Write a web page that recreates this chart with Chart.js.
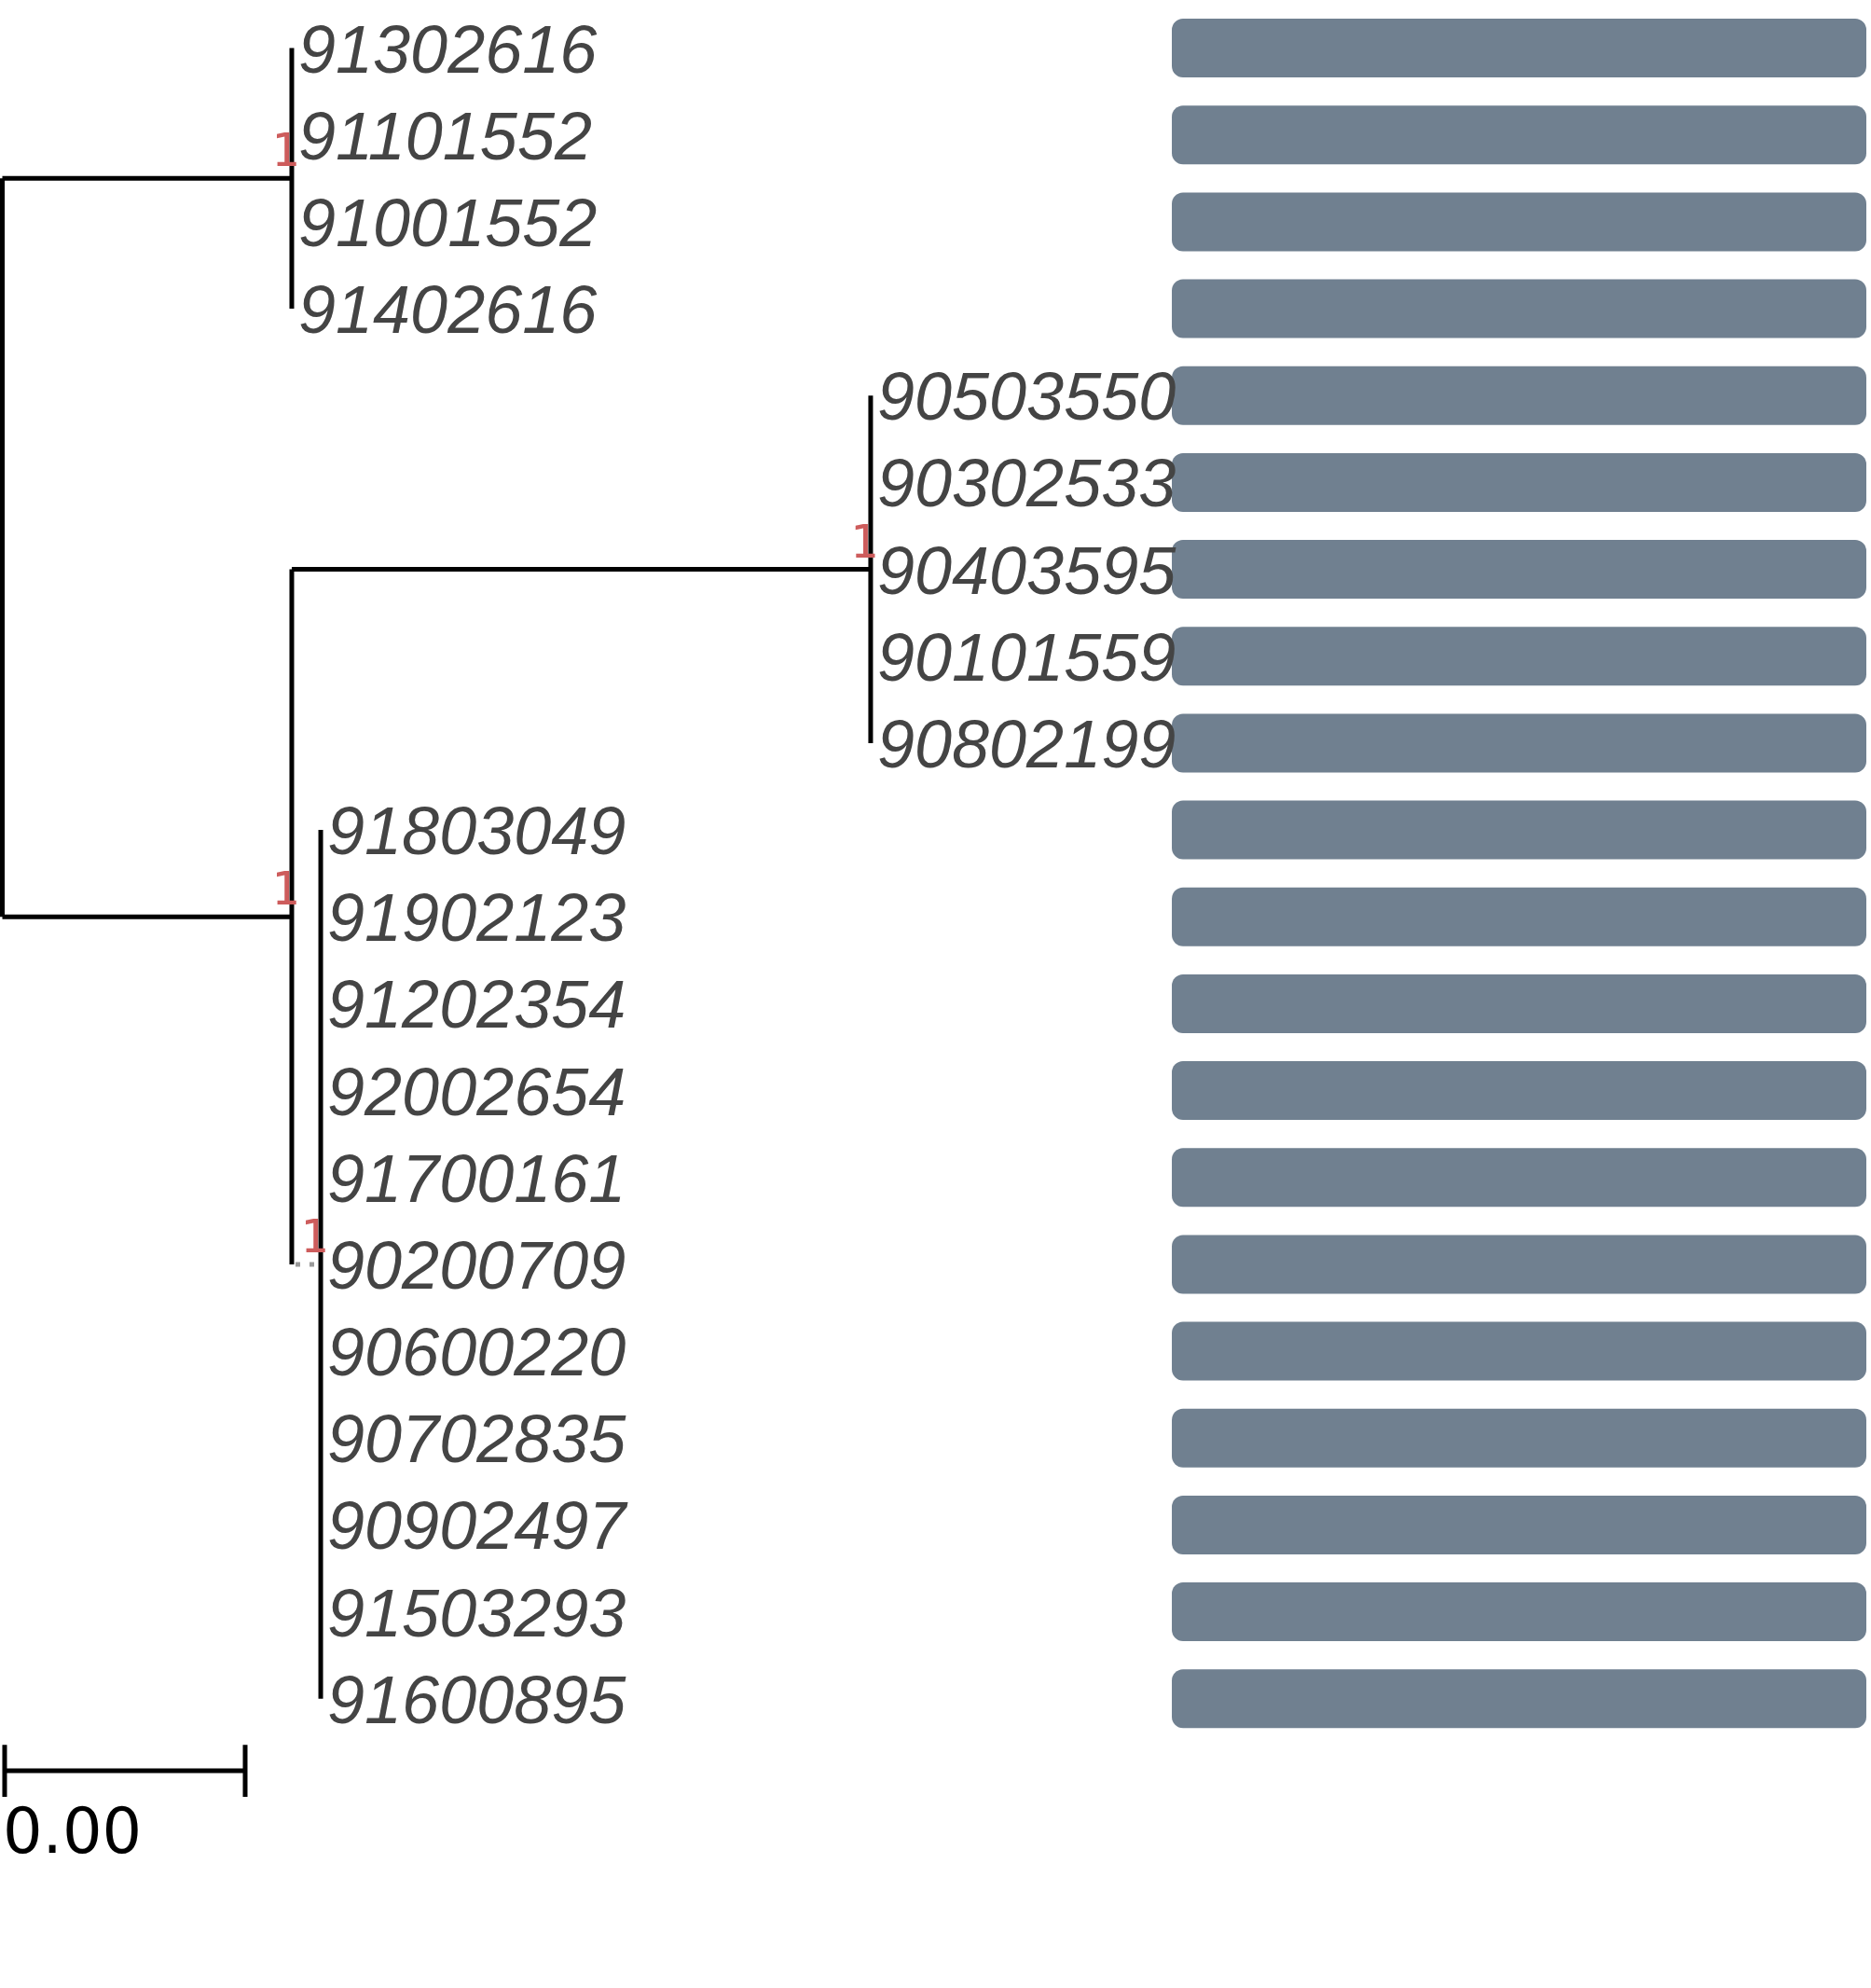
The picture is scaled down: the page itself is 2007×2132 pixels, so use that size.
<!DOCTYPE html>
<html><head><meta charset="utf-8">
<script src="https://cdn.jsdelivr.net/npm/chart.js@4.4.1/dist/chart.umd.min.js"></script>
<style>html,body{margin:0;padding:0;background:#fff;overflow:hidden}canvas{display:block}</style>
</head><body>
<canvas id="c" width="2007" height="2132"></canvas>
<script>
// ---- data ----
const tipLabels = ['91302616','91101552','91001552','91402616',
  '90503550','90302533','90403595','90101559','90802199',
  '91803049','91902123','91202354','92002654','91700161','90200709',
  '90600220','90702835','90902497','91503293','91600895'];
const tipRows = [0,1,2,3,4,5,6,7,8,9,10,11,12,13,14,15,16,17,18,19];
const tipClade = ['c1','c1','c1','c1','cA','cA','cA','cA','cA',
  'cB','cB','cB','cB','cB','cB','cB','cB','cB','cB','cB'];
const cladeNames = ['root','c1','c2','cA','cB'];
const cladeParents = [null,'root','root','c2','c2'];
const cladeDepths = [0, 1, 1, 3, 1.1];
const cladeSupport = ['', '1', '1', '1', '1'];
const barValues = [1,1,1,1,1,1,1,1,1,1,1,1,1,1,1,1,1,1,1,1];
const scaleBarRange = [0.008, 0.839];
const scaleBarRow = 19.83;
const scaleBarLabel = '0.00';

// ---- derived tree layout ----
const depthOf = n => cladeDepths[cladeNames.indexOf(n)];
const cladeY = {};
function childYs(name){
  const ys = [];
  tipClade.forEach((c,i)=>{ if(c===name) ys.push(tipRows[i]); });
  cladeNames.forEach((c,i)=>{ if(cladeParents[i]===name) ys.push(computeY(c)); });
  return ys;
}
function computeY(name){
  if(cladeY[name]!==undefined) return cladeY[name];
  const ys = childYs(name);
  cladeY[name] = ys.reduce((a,b)=>a+b,0)/ys.length;
  return cladeY[name];
}
cladeNames.forEach(computeY);

const dottedBranches = ['cB'];
const lineBase = {type:'line', showLine:true, pointRadius:0, borderWidth:5, borderColor:'#000',
  fill:false, tension:0, clip:false, xAxisID:'x', yAxisID:'y', borderCapStyle:'butt'};
const datasets = [];
cladeNames.forEach((name,i)=>{
  const d = cladeDepths[i], y = cladeY[name];
  const ys = childYs(name);
  datasets.push(Object.assign({}, lineBase, {data:[{x:d,y:Math.min(...ys)},{x:d,y:Math.max(...ys)}]}));
  if(cladeParents[i]){
    const pd = depthOf(cladeParents[i]);
    const extra = dottedBranches.includes(name) ? {borderColor:'#999', borderDash:[5,10], borderDashOffset:-4} : {};
    datasets.push(Object.assign({}, lineBase, {data:[{x:pd,y:y},{x:d,y:y}]}, extra));
  }
});
// scale bar
datasets.push(Object.assign({}, lineBase, {data:[{x:scaleBarRange[0],y:scaleBarRow},{x:scaleBarRange[1],y:scaleBarRow}]}));
scaleBarRange.forEach(v=>{
  datasets.push(Object.assign({}, lineBase, {data:[{x:v,y:scaleBarRow-0.3},{x:v,y:scaleBarRow+0.3}]}));
});
// bars
datasets.push({type:'bar', indexAxis:'y', xAxisID:'xb', yAxisID:'y', grouped:false,
  data: barValues.map((v,i)=>({x:v, y:tipRows[i]})),
  backgroundColor:'#708090', borderWidth:0, borderRadius:12, borderSkipped:false,
  categoryPercentage:1, barPercentage:0.676});

const textPlugin = {
  id:'treeText',
  afterDatasetsDraw(chart){
    const ctx = chart.ctx, X = chart.scales.x, Y = chart.scales.y;
    ctx.save();
    ctx.fillStyle = '#444444';
    ctx.font = 'italic 72px "Liberation Sans", Arial, sans-serif';
    ctx.textAlign = 'left'; ctx.textBaseline = 'alphabetic';
    tipLabels.forEach((t,i)=>{
      ctx.fillText(t, X.getPixelForValue(depthOf(tipClade[i])) + 7, Y.getPixelForValue(tipRows[i]) + 26);
    });
    ctx.fillStyle = '#CD5C5C';
    ctx.font = '50px "DejaVu Sans Mono", monospace';
    ctx.textAlign = 'right';
    cladeNames.forEach((n,i)=>{
      if(!cladeSupport[i]) return;
      ctx.fillText(cladeSupport[i], X.getPixelForValue(cladeDepths[i]) + 8, Y.getPixelForValue(cladeY[n]) - 13);
    });
    ctx.fillStyle = '#000';
    ctx.font = '67px "DejaVu Sans", sans-serif';
    ctx.textAlign = 'left';
    ctx.fillText(scaleBarLabel, X.getPixelForValue(scaleBarRange[0]) - 2, Y.getPixelForValue(scaleBarRow) + 88);
    ctx.restore();
  }
};

new Chart(document.getElementById('c'), {
  type:'scatter',
  data:{datasets},
  options:{
    responsive:false, animation:false, devicePixelRatio:1,
    layout:{padding:{left:2.5, right:5, top:5, bottom:0}},
    plugins:{legend:{display:false}, tooltip:{enabled:false}},
    scales:{
      x:{type:'linear', min:0, max:6.44, offset:false, display:false},
      xb:{type:'linear', min:-1.684, max:1, offset:false, display:false},
      y:{type:'linear', min:-0.5, max:22.33, reverse:true, offset:false, display:false,
         afterBuildTicks: s => { s.ticks = tipRows.map(v => ({value:v})); }}
    }
  },
  plugins:[textPlugin]
});
</script>
</body></html>
